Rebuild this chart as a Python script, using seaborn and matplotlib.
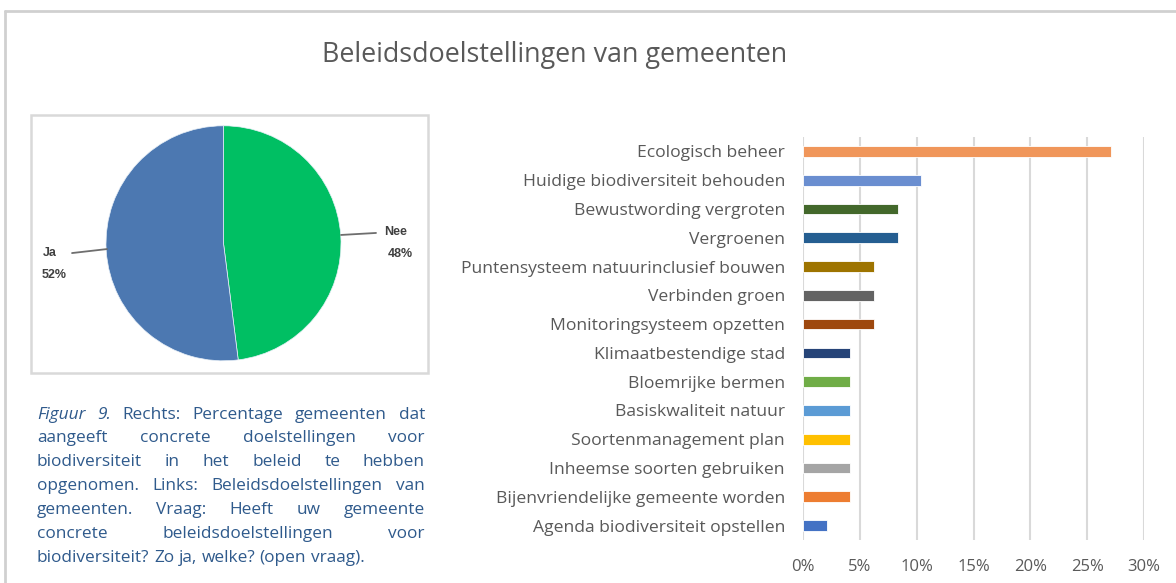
import matplotlib
matplotlib.use("Agg")
import matplotlib.pyplot as plt
from matplotlib.patches import Rectangle
from matplotlib.lines import Line2D
import seaborn as sns
import pandas as pd

# ---------------- data ----------------
title = "Beleidsdoelstellingen van gemeenten"
categories = [
    "Ecologisch beheer",
    "Huidige biodiversiteit behouden",
    "Bewustwording vergroten",
    "Vergroenen",
    "Puntensysteem natuurinclusief bouwen",
    "Verbinden groen",
    "Monitoringsysteem opzetten",
    "Klimaatbestendige stad",
    "Bloemrijke bermen",
    "Basiskwaliteit natuur",
    "Soortenmanagement plan",
    "Inheemse soorten gebruiken",
    "Bijenvriendelijke gemeente worden",
    "Agenda biodiversiteit opstellen",
]
shares = [0.2708, 0.1042, 0.0833, 0.0833, 0.0625, 0.0625, 0.0625,
          0.0417, 0.0417, 0.0417, 0.0417, 0.0417, 0.0417, 0.0208]
bar_colors = ["#F0965A", "#6A8ED0", "#43682B", "#255E91", "#9E7400", "#636363",
              "#9E480E", "#264478", "#70AD47", "#5B9BD5", "#FFC000", "#A5A5A5",
              "#ED7D31", "#4472C4"]
xticks = [0, 0.05, 0.10, 0.15, 0.20, 0.25, 0.30]
xtick_labels = ["0%", "5%", "10%", "15%", "20%", "25%", "30%"]

pie_labels = ["Nee", "Ja"]
pie_values = [48, 52]
pie_pct = ["48%", "52%"]
pie_colors = ["#00BF63", "#4C78B1"]

caption_lines = [
    [("Figuur", "italic"), ("9.", "italic"), ("Rechts:", "normal"), ("Percentage", "normal"),
     ("gemeenten", "normal"), ("dat", "normal")],
    "aangeeft concrete doelstellingen voor",
    "biodiversiteit in het beleid te hebben",
    "opgenomen. Links: Beleidsdoelstellingen van",
    "gemeenten. Vraag: Heeft uw gemeente",
    "concrete beleidsdoelstellingen voor",
    "biodiversiteit? Zo ja, welke? (open vraag).",
]

# ---------------- figure ----------------
sns.set_theme(style="white")
plt.rcParams["font.family"] = ["Open Sans", "DejaVu Sans"]

W, H = 1176, 583
fig = plt.figure(figsize=(W / 100, H / 100), dpi=100)
fig.patch.set_facecolor("white")


def fx(px):
    return px / W


def fy(py):
    return (H - py) / H


# outer frame (extends past right/bottom edges)
fig.add_artist(Line2D([fx(5), fx(5)], [fy(11), fy(600)], color="#D0D0D0", lw=2,
                      transform=fig.transFigure))
fig.add_artist(Line2D([fx(5), fx(1200)], [fy(11), fy(11)], color="#D0D0D0", lw=2,
                      transform=fig.transFigure))

# title
fig.text(fx(555), fy(55), title, ha="center", va="center", fontsize=19.4,
         color="#595959")

# ---------------- bar chart ----------------
df = pd.DataFrame({"cat": categories, "val": shares})
ax = fig.add_axes([fx(803), fy(540), fx(1144) - fx(803), fy(137) - fy(540)])
sns.barplot(data=df, x="val", y="cat", hue="cat", palette=bar_colors, order=categories,
            hue_order=categories, legend=False, width=0.37, ax=ax, saturation=1,
            edgecolor="white", linewidth=0.6, dodge=False)
ax.set_xlim(0, 0.30)
ax.set_ylim(len(categories) - 0.5, -0.5)
ax.set_xticks(xticks)
ax.set_xticklabels(xtick_labels)
ax.set_xlabel("")
ax.set_ylabel("")
ax.grid(axis="x", color="#D9D9D9", lw=1.5)
ax.grid(axis="y", visible=False)
ax.set_axisbelow(True)
for s in ax.spines.values():
    s.set_visible(False)
ax.tick_params(axis="x", length=0, pad=14, labelsize=12, labelcolor="#595959")
ax.tick_params(axis="y", length=0, pad=13, labelsize=12.6, labelcolor="#595959")

# ---------------- pie chart ----------------
fig.add_artist(Rectangle((fx(31), fy(373)), fx(428) - fx(31), fy(115) - fy(373),
                         transform=fig.transFigure, fill=False, edgecolor="#D9D9D9",
                         lw=1.8))
cx, cy, r = 223.5, 243.3, 117.5
pax = fig.add_axes([fx(cx - r), fy(cy + r), fx(2 * r), (2 * r) / H])
pax.pie(pie_values, colors=pie_colors, startangle=90, counterclock=False,
        wedgeprops=dict(linewidth=0.5, edgecolor="#E8F0F8"))
pax.set_xlim(-1, 1)
pax.set_ylim(-1, 1)
pax.set_aspect("equal")
pax.axis("off")

lab_pos = {"Nee": ((1.468, 0.096), (1.502, -0.091), ((1.0, 1.298), (0.071, 0.088))),
           "Ja": ((-1.481, -0.083), (-1.443, -0.27), ((-1.289, -0.991), (-0.083, -0.049)))}
for lab, pct in zip(pie_labels, pie_pct):
    (tx, ty), (px_, py_), (lx, ly) = lab_pos[lab]
    pax.text(tx, ty, lab, ha="center", va="center", fontsize=9, fontweight="bold",
             color="#404040", family=["Liberation Sans", "DejaVu Sans"], clip_on=False)
    pax.text(px_, py_, pct, ha="center", va="center", fontsize=9, fontweight="bold",
             color="#404040", family=["Liberation Sans", "DejaVu Sans"], clip_on=False)
    pax.plot(lx, ly, color="#6E6E6E", lw=1.3, clip_on=False)

# ---------------- caption (justified) ----------------
cap_color = "#2F5A8C"
cap_size = 12.4
x0, x1 = 37, 425
line_y = [415, 438.5, 462, 486, 510, 534, 558]
fig.canvas.draw()
renderer = fig.canvas.get_renderer()
for i, line in enumerate(caption_lines):
    if isinstance(line, str):
        words = [(w, "normal") for w in line.split()]
    else:
        words = line
    texts = []
    widths = []
    for w, st in words:
        t = fig.text(0, fy(line_y[i]), w, fontsize=cap_size, style=st, color=cap_color,
                     ha="left", va="center")
        bb = t.get_window_extent(renderer)
        texts.append(t)
        widths.append(bb.width)
    last = i == len(caption_lines) - 1
    space = renderer.points_to_pixels(cap_size) * 0.26
    if last or len(words) == 1:
        gap = space
    else:
        gap = (x1 - x0 - sum(widths)) / (len(words) - 1)
    x = x0
    for t, wd in zip(texts, widths):
        t.set_x(fx(x))
        x += wd + gap

fig.savefig("out.png", dpi=100, facecolor="white")
